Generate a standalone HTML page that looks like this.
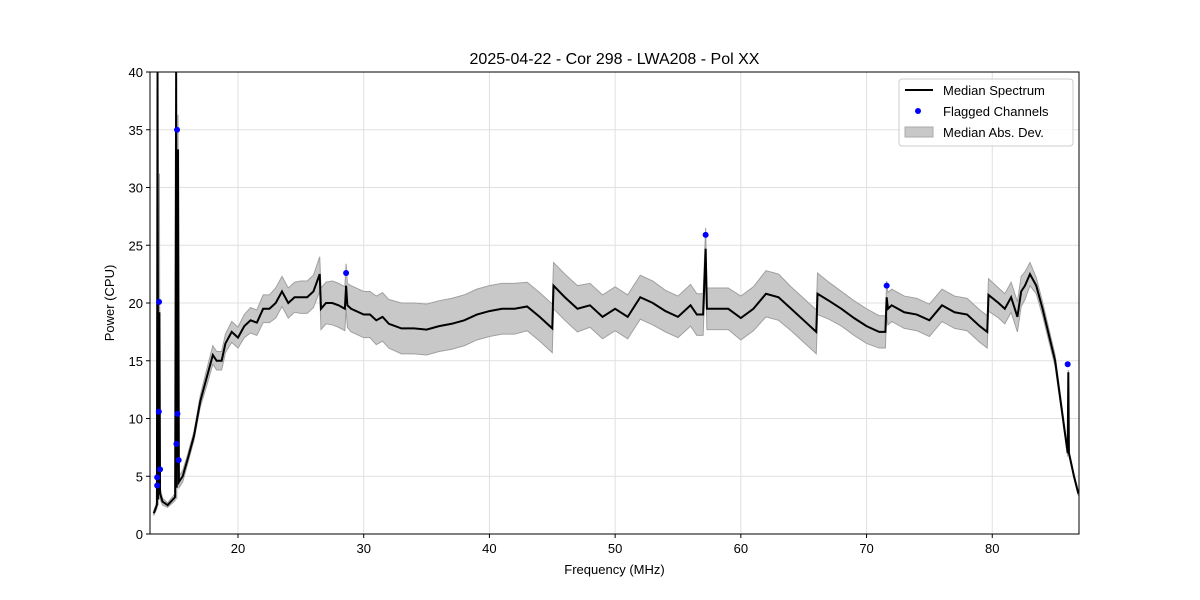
<!DOCTYPE html>
<html><head><meta charset="utf-8">
<style>
body{margin:0;background:#fff;}
svg{display:block;font-family:"Liberation Sans","DejaVu Sans",sans-serif;}
</style></head>
<body>
<svg id="chart" width="1200" height="600" viewBox="0 0 1200 600">
<rect width="1200" height="600" fill="#fff"/>
<g id="grid"></g>
<g id="band"></g>
<g id="line"></g>
<g id="flags"></g>
<rect x="150" y="72" width="929" height="462" fill="none" stroke="#000" stroke-width="1"/>
<g id="xticks"></g>
<g id="yticks"></g>
<text x="614.5" y="64" text-anchor="middle" font-size="16">2025-04-22 - Cor 298 - LWA208 - Pol XX</text>
<text x="614.5" y="574" text-anchor="middle" font-size="13">Frequency (MHz)</text>
<text x="0" y="0" transform="translate(114,303) rotate(-90)" text-anchor="middle" font-size="13">Power (CPU)</text>
<g>
<rect x="899" y="79" width="174" height="67" rx="3" fill="#fff" fill-opacity="0.8" stroke="#ccc"/>
<g><line x1="905" y1="90" x2="933" y2="90" stroke="#000" stroke-width="2"/><text x="943" y="95" font-size="13">Median Spectrum</text></g>
<g><circle cx="918" cy="111" r="3" fill="#0000ff"/><text x="943" y="116" font-size="13">Flagged Channels</text></g>
<g><rect x="905" y="127" width="28" height="10" fill="#c8c8c8" stroke="#aaa"/><text x="943" y="137" font-size="13">Median Abs. Dev.</text></g>
</g>
</svg>
<script>
const freqs=[13.3,13.55,13.6,13.65,13.75,13.8,14.0,14.4,15.0,15.08,15.13,15.23,15.3,15.6,16,16.5,17,17.5,18,18.3,18.7,19,19.5,20,20.5,21,21.5,22,22.5,23,23.5,24,24.5,25,25.5,26,26.5,26.6,27,27.5,28,28.5,28.6,28.7,29,30,30.5,31,31.5,32,33,34,35,36,37,38,39,40,41,42,43,44,45,45.1,46,47,48,49,50,51,52,53,54,55,56,56.5,57,57.2,57.3,58,59,60,61,62,63,64,65,66,66.1,67,68,69,70,71,71.5,71.6,71.7,72,73,74,75,76,77,78,79,79.6,79.7,80.5,81,81.5,82,82.3,82.6,83,83.5,84,85,85.5,86,86.05,86.1,86.5,86.85];
const median=[1.8,2.5,40,3,19.2,3.5,2.8,2.5,3.2,40,4,33.3,4.5,5,6.5,8.5,11.5,13.5,15.5,15,15,16.5,17.5,17,18,18.5,18.3,19.5,19.5,20,21,20,20.5,20.5,20.5,21,22.5,19.5,20,20,19.8,19.5,21.5,19.8,19.5,19,19,18.5,18.8,18.2,17.8,17.8,17.7,18,18.2,18.5,19,19.3,19.5,19.5,19.7,18.8,17.8,21.5,20.5,19.5,19.8,18.8,19.5,18.8,20.5,20,19.3,18.8,19.8,19,19,24.7,19.5,19.5,19.5,18.7,19.5,20.8,20.5,19.5,18.5,17.5,20.8,20.2,19.5,18.7,18,17.5,17.5,20.5,19.5,19.8,19.2,19,18.5,19.8,19.2,19,18,17.5,20.7,20,19.5,20.5,18.8,21,21.5,22.5,21.5,19.5,15,11,7,14,7,5,3.5];
const mad=[0.2,0.3,0.5,0.5,12,0.5,0.3,0.2,0.3,1,1,3,0.5,0.5,0.4,0.4,0.5,0.7,0.8,0.8,0.8,0.8,0.9,0.9,1.0,1.1,1.1,1.2,1.2,1.3,1.3,1.3,1.3,1.4,1.4,1.4,1.5,1.8,1.8,1.9,1.9,1.9,1.9,1.9,2.0,2.0,2.0,2.1,2.1,2.1,2.2,2.2,2.2,2.2,2.2,2.2,2.2,2.2,2.2,2.2,2.1,2.1,2.1,2.0,2.0,2.0,1.9,1.9,1.9,1.9,1.9,1.9,1.8,1.8,1.8,1.8,1.8,1.8,1.8,1.8,1.8,1.9,1.9,2.0,2.0,1.9,1.9,1.9,1.8,1.6,1.5,1.5,1.5,1.4,1.4,1.4,1.4,1.4,1.4,1.4,1.4,1.4,1.4,1.4,1.4,1.4,1.4,1.3,1.3,1.3,1.3,1.3,1.2,1.0,0.7,0.6,0.5,0.4,0.3,0.2,0.2,0.2,0.2,0.1];
const flagFreqs=[13.57,13.57,13.7,13.72,13.8,15.15,15.1,15.18,15.28,28.6,57.2,71.6,86.0];
const flagValues=[4.2,4.9,10.6,20.1,5.6,35,7.8,10.4,6.4,22.6,25.9,21.5,14.7];
const xTicks=[20,30,40,50,60,70,80];
const yTicks=[0,5,10,15,20,25,30,35,40];

const X0=150,X1=1079,Y0=534,Y1=72,XMIN=13.0,XMAX=86.9,YMIN=0,YMAX=40;
const sx=f=>X0+(f-XMIN)/(XMAX-XMIN)*(X1-X0);
const sy=v=>Y0-(Math.min(v,YMAX+1)-YMIN)/(YMAX-YMIN)*(Y0-Y1);
const NS='http://www.w3.org/2000/svg';
function mk(tag,attrs,parent){const e=document.createElementNS(NS,tag);for(const k in attrs)e.setAttribute(k,attrs[k]);parent.appendChild(e);return e;}
const grid=document.getElementById('grid'),xt=document.getElementById('xticks'),yt=document.getElementById('yticks');
xTicks.forEach(t=>{const x=sx(t);
 const g=mk('line',{x1:x,x2:x,y1:Y1,y2:Y0,stroke:'#e0e0e0','stroke-width':1},grid);
 
 
 mk('line',{x1:x,x2:x,y1:Y0,y2:Y0+4,stroke:'#000'},xt);
 const tx=mk('text',{x:x,y:Y0+19,'text-anchor':'middle','font-size':13},xt);tx.textContent=t;
 
 
});
yTicks.forEach(t=>{const y=sy(t);
 const g=mk('line',{x1:X0,x2:X1,y1:y,y2:y,stroke:'#e0e0e0','stroke-width':1},grid);
 
 
 mk('line',{x1:X0-4,x2:X0,y1:y,y2:y,stroke:'#000'},yt);
 const tx=mk('text',{x:X0-7,y:y+5,'text-anchor':'end','font-size':13},yt);tx.textContent=t;
 
 
});
const clip=mk('clipPath',{id:'pc'},document.getElementById('chart'));
mk('rect',{x:X0,y:Y1,width:X1-X0,height:Y0-Y1},clip);
let up=[],dn=[];
freqs.forEach((f,i)=>{up.push(sx(f)+','+sy(median[i]+mad[i]));dn.unshift(sx(f)+','+sy(median[i]-mad[i]));});
const band=mk('polygon',{points:up.concat(dn).join(' '),fill:'#c8c8c8',stroke:'#a0a0a0','stroke-width':1,'clip-path':'url(#pc)'},document.getElementById('band'));


const pl=mk('polyline',{points:freqs.map((f,i)=>sx(f)+','+sy(median[i])).join(' '),fill:'none',stroke:'#000','stroke-width':2,'stroke-linejoin':'miter','clip-path':'url(#pc)'},document.getElementById('line'));


flagFreqs.forEach((f,i)=>{
 const c=mk('circle',{cx:sx(f),cy:sy(flagValues[i]),r:3,fill:'#0000ff'},document.getElementById('flags'));
 
 
});
</script>
</body></html>
